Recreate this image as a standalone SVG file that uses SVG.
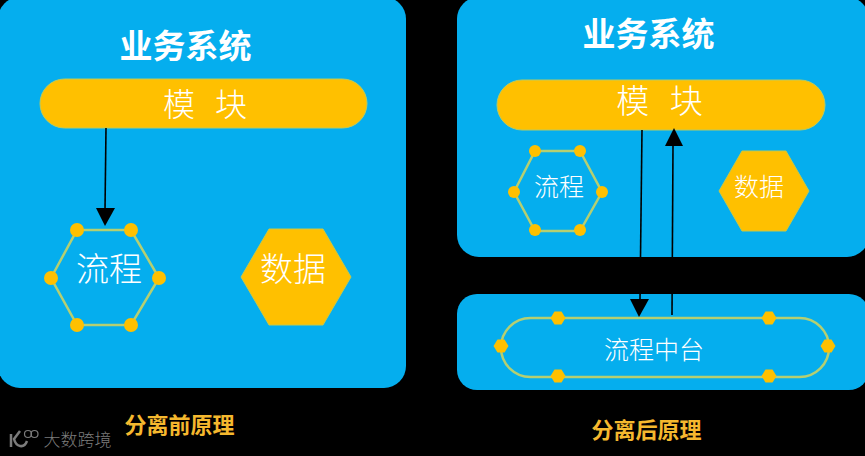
<svg xmlns="http://www.w3.org/2000/svg" width="865" height="456" viewBox="0 0 865 456">
<style>
text{font-family:"Noto Sans CJK SC","Liberation Sans",sans-serif;text-anchor:middle;fill:#fff;font-weight:300}
.panel{fill:#05AEEE}
.pill{fill:#FFC000;stroke:#B7CB62;stroke-width:1}
.outline{fill:none;stroke:#B5CF72;stroke-width:2.500}
.solid{fill:#FFC000;stroke:#C5C84A;stroke-width:1}
.dot{fill:#FFC000}
text.title{font-weight:700;font-size:33px}
text.cap{font-weight:700;font-size:22px;fill:#F5B82E}
.line{fill:none;stroke:#000;stroke-width:1.600}
.head{fill:#000}
</style>
<rect width="865" height="456" fill="#000"/>
<g id="panel-before">
<rect class="panel" x="-2" y="-3" width="408" height="391" rx="22"/>
<text class="title" x="185.500" y="58">业务系统</text>
</g>
<g id="panel-after">
<rect class="panel" x="457" y="-3" width="412" height="260" rx="22"/>
<text class="title" x="648.500" y="46">业务系统</text>
</g>
<g id="panel-platform">
<rect class="panel" x="457" y="294" width="412" height="96" rx="20"/>
</g>
<g id="module-before">
<rect class="pill" x="40" y="79" width="327" height="49" rx="24.500"/>
<text x="205" y="116" font-size="32" word-spacing="13">模 块</text>
</g>
<g id="flow-before">
<polygon class="outline" points="51,278 77,230 131,230 159,278 131,325 77,325"/>
<circle class="dot" cx="51" cy="278" r="7"/><circle class="dot" cx="77" cy="230" r="7"/><circle class="dot" cx="131" cy="230" r="7"/><circle class="dot" cx="159" cy="278" r="7"/><circle class="dot" cx="131" cy="325" r="7"/><circle class="dot" cx="77" cy="325" r="7"/>
<text x="109" y="281" font-size="33">流程</text>
</g>
<g id="data-before">
<polygon class="solid" points="241,277 269,229 323,229 351,277 323,325 269,325"/>
<text x="293" y="281" font-size="33">数据</text>
</g>
<g id="module-after">
<rect class="pill" x="497" y="80" width="328" height="50" rx="25"/>
<text x="659.500" y="113" font-size="33" word-spacing="13">模 块</text>
</g>
<g id="flow-after">
<polygon class="outline" points="514,192 535,151 580,151 602,192 580,231 535,231"/>
<circle class="dot" cx="514" cy="192" r="6"/><circle class="dot" cx="535" cy="151" r="6"/><circle class="dot" cx="580" cy="151" r="6"/><circle class="dot" cx="602" cy="192" r="6"/><circle class="dot" cx="580" cy="230" r="6"/><circle class="dot" cx="535" cy="230" r="6"/>
<text x="559" y="196" font-size="25">流程</text>
</g>
<g id="data-after">
<polygon class="solid" points="719,191 742,151 786,151 809,191 786,231 742,231"/>
<text x="759" y="196" font-size="25">数据</text>
</g>
<g id="platform">
<rect class="outline" x="501" y="318" width="328" height="59" rx="29.500"/>
<polygon class="dot" points="493.500,346 497.500,339.500 504.500,339.500 508.500,346 504.500,352.500 497.500,352.500"/>
<polygon class="dot" points="820.500,346 824.500,339.500 831.500,339.500 835.500,346 831.500,352.500 824.500,352.500"/>
<polygon class="dot" points="550.500,318 554.500,311.500 561.500,311.500 565.500,318 561.500,324.500 554.500,324.500"/>
<polygon class="dot" points="761.500,318 765.500,311.500 772.500,311.500 776.500,318 772.500,324.500 765.500,324.500"/>
<polygon class="dot" points="550.500,376 554.500,369.500 561.500,369.500 565.500,376 561.500,382.500 554.500,382.500"/>
<polygon class="dot" points="761.500,376 765.500,369.500 772.500,369.500 776.500,376 772.500,382.500 765.500,382.500"/>
<text x="654" y="359" font-size="25">流程中台</text>
</g>
<g id="connectors">
<path class="line" d="M106,128 L105,210"/>
<polygon class="head" points="96,208 115,208 105,226"/>
<path class="line" d="M642,130 L640,300"/>
<polygon class="head" points="630,299 649,299 639,317"/>
<path class="line" d="M673,146 L672,315"/>
<polygon class="head" points="665,146 683,146 674,128"/>
</g>
<g id="captions">
<text class="cap" x="179.500" y="433">分离前原理</text>
<text class="cap" x="646.500" y="438">分离后原理</text>
</g>
<g id="watermark">
<path d="M11,434 V447 M20,431 L14,439 C16,447 24,449 27,441" fill="none" stroke="#7c7c7c" stroke-width="2.500"/>
<circle cx="28" cy="434" r="3.500" fill="none" stroke="#7c7c7c" stroke-width="1.200"/>
<circle cx="34.500" cy="434" r="3.500" fill="none" stroke="#7c7c7c" stroke-width="1.200"/>
<text x="77.500" y="446" font-size="17" style="fill:#7c7c7c">大数跨境</text>
</g>
</svg>
